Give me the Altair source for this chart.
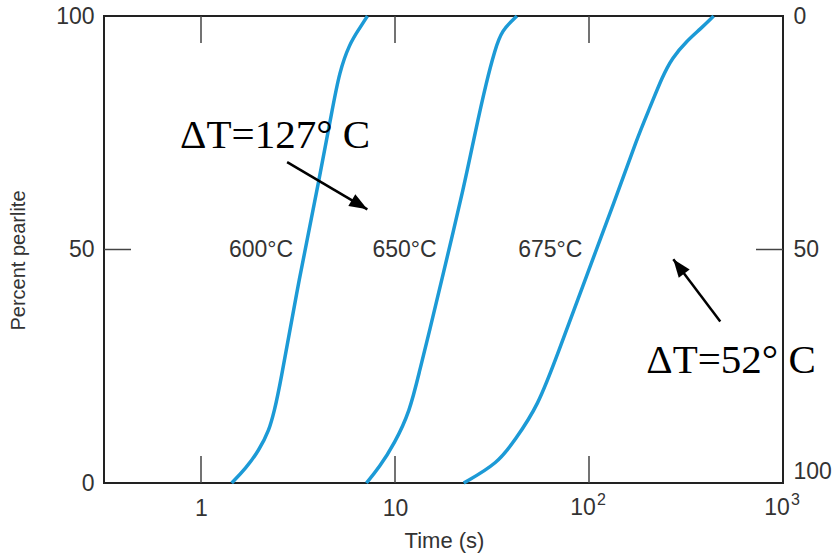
import altair as alt
import pandas as pd

# ---- data ----
t600 = [1.44, 1.70, 1.99, 2.25, 2.39, 2.53, 3.21, 4.07, 4.75, 5.17, 5.82, 6.55, 7.21]
p600 = [0, 3.1, 7.0, 11.3, 15.6, 19.9, 44, 65, 80, 88, 94, 97.3, 100]

t650 = [7.12, 8.32, 9.94, 11.9, 13.4, 15.1, 17.4, 22.9, 25.8, 29.7, 32.7, 35.4, 42.5]
p650 = [0, 3.4, 8.5, 15.2, 24.1, 32.7, 43.4, 64.2, 74.8, 86.2, 92.6, 96.9, 100]

t675 = [22.6, 33.9, 41.5, 54.5, 69.2, 96.4, 136, 176.4, 206.6, 237.7, 267.6, 319.8, 374.7, 439]
p675 = [0, 4.2, 9.2, 16.4, 27.8, 44, 60.5, 73.7, 80.5, 86.8, 91.0, 94.7, 97.2, 100]

temp_labels = ["600°C", "650°C", "675°C"]
temp_t = [2.04, 11.2, 63.2]
temp_p = [50, 50, 50]

dt_labels = ["ΔT=127° C", "ΔT=52° C"]
dt_t = [2.41, 540]
dt_p = [71.7, 23.5]

arrow1_t = [2.78, 7.2]
arrow1_p = [68.7, 58.6]
arrow2_t = [475, 272]
arrow2_p = [34.6, 47.9]

x_ticks = [1, 10, 100]
y_ticks = [50]
x_axis_values = [1, 10, 100, 1000]
y_axis_values = [0, 50, 100]
pow_t = [100, 1000]
pow_base = ["10", "10"]
pow_exp = ["2", "3"]

# ---- tables ----
rows = []
for name, ts, ps in [("600", t600, p600), ("650", t650, p650), ("675", t675, p675)]:
    for i, (t, p) in enumerate(zip(ts, ps)):
        rows.append({"series": name, "t": t, "p": p, "o": i})
curves = pd.DataFrame(rows)

temps = pd.DataFrame({"t": temp_t, "p": temp_p, "label": temp_labels})
dts = pd.DataFrame({"t": dt_t, "p": dt_p, "label": dt_labels})
a1 = pd.DataFrame({"t": arrow1_t, "p": arrow1_p, "o": [0, 1]})
a2 = pd.DataFrame({"t": arrow2_t, "p": arrow2_p, "o": [0, 1]})
pows = pd.DataFrame({"t": pow_t, "base": pow_base, "exp": pow_exp})

W, H = 679, 467
x_scale = alt.Scale(type="log", domain=[10 ** -0.5, 1000])
y_scale = alt.Scale(domain=[0, 100])

lines = alt.Chart(curves).mark_line(
    color="#1c9ad6", strokeWidth=3.5, interpolate="basis"
).encode(
    x=alt.X("t:Q", scale=x_scale, axis=alt.Axis(
        values=x_axis_values,
        labelExpr="datum.value >= 100 ? '' : datum.value == 10 ? '10' : '1'",
        title="Time (s)", titleX=340, titleY=64, titleAlign="center",
        titleBaseline="alphabetic", titleFontSize=22, labelPadding=14,
    )),
    y=alt.Y("p:Q", scale=y_scale, axis=alt.Axis(
        values=y_axis_values, title="Percent pearlite",
        titleX=-86, titleY=244, titleAngle=270, titleAlign="center",
        titleBaseline="middle", labelPadding=10,
    )),
    detail="series:N",
    order="o:Q",
)

base_layer = alt.Chart(pows).mark_text(
    font="Liberation Sans", fontSize=23, color="#333", align="center", baseline="top", dx=-6
).encode(x=alt.X("t:Q", scale=x_scale), y=alt.value(H + 14), text="base:N")

exp_layer = alt.Chart(pows).mark_text(
    font="Liberation Sans", fontSize=16, color="#333", align="left", baseline="top", dx=8
).encode(x=alt.X("t:Q", scale=x_scale), y=alt.value(H + 9), text="exp:N")

top_ticks = alt.Chart(pd.DataFrame({"t": x_ticks})).mark_rule(
    color="#444", strokeWidth=1.5
).encode(x=alt.X("t:Q", scale=x_scale), y=alt.value(0), y2=alt.value(27))

bottom_ticks = alt.Chart(pd.DataFrame({"t": x_ticks})).mark_rule(
    color="#444", strokeWidth=1.5
).encode(x=alt.X("t:Q", scale=x_scale), y=alt.value(H - 27), y2=alt.value(H))

left_ticks = alt.Chart(pd.DataFrame({"p": y_ticks})).mark_rule(
    color="#444", strokeWidth=1.5
).encode(y=alt.Y("p:Q", scale=y_scale), x=alt.value(0), x2=alt.value(27))

temp_text = alt.Chart(temps).mark_text(
    font="Liberation Sans", fontSize=23, color="#333", align="center", baseline="middle"
).encode(x=alt.X("t:Q", scale=x_scale), y=alt.Y("p:Q", scale=y_scale), text="label:N")

dt_text = alt.Chart(dts).mark_text(
    font="Liberation Serif", fontSize=41, color="black", align="center", baseline="alphabetic"
).encode(x=alt.X("t:Q", scale=x_scale), y=alt.Y("p:Q", scale=y_scale), text="label:N")

arrow_shape = "M0,0 L-0.38,1 L0.38,1 Z"

arrow1_line = alt.Chart(a1).mark_line(color="black", strokeWidth=2.5).encode(
    x=alt.X("t:Q", scale=x_scale), y=alt.Y("p:Q", scale=y_scale), order="o:Q")
arrow1_head = alt.Chart(a1.iloc[[1]]).mark_point(
    shape=arrow_shape, filled=True, color="black", opacity=1, size=1300, angle=120.7
).encode(x=alt.X("t:Q", scale=x_scale), y=alt.Y("p:Q", scale=y_scale))

arrow2_line = alt.Chart(a2).mark_line(color="black", strokeWidth=2.5).encode(
    x=alt.X("t:Q", scale=x_scale), y=alt.Y("p:Q", scale=y_scale), order="o:Q")
arrow2_head = alt.Chart(a2.iloc[[1]]).mark_point(
    shape=arrow_shape, filled=True, color="black", opacity=1, size=1300, angle=322.8
).encode(x=alt.X("t:Q", scale=x_scale), y=alt.Y("p:Q", scale=y_scale))

main = alt.layer(
    lines, base_layer, exp_layer, top_ticks, bottom_ticks, left_ticks, temp_text,
    arrow1_line, arrow1_head, arrow2_line, arrow2_head, dt_text,
)

right = alt.Chart(pd.DataFrame({"p": y_ticks})).mark_rule(
    color="#444", strokeWidth=1.5
).encode(
    y=alt.Y("p:Q", scale=alt.Scale(domain=[0, 100]), axis=alt.Axis(
        orient="right", values=y_axis_values, labelExpr="'' + (100 - datum.value)",
        title=None, labelPadding=10,
        labelBaseline=alt.condition("datum.value == 0", alt.value("bottom"), alt.value("middle")),
    )),
    x=alt.value(W - 27), x2=alt.value(W),
)

chart = alt.layer(main, right).resolve_scale(y="independent").properties(
    width=W, height=H,
    autosize=alt.AutoSizeParams(type="none"),
    padding={"left": 104, "top": 16, "right": 52, "bottom": 73},
).configure_view(
    stroke="#222", strokeWidth=2
).configure_axis(
    domain=False, ticks=False, tickSize=0, grid=False,
    labelFont="Liberation Sans", labelFontSize=23, labelColor="#333",
    titleFont="Liberation Sans", titleFontSize=20, titleFontWeight="normal", titleColor="#333",
)

chart.save("out.html", embed_options={"renderer": "svg", "actions": False})
